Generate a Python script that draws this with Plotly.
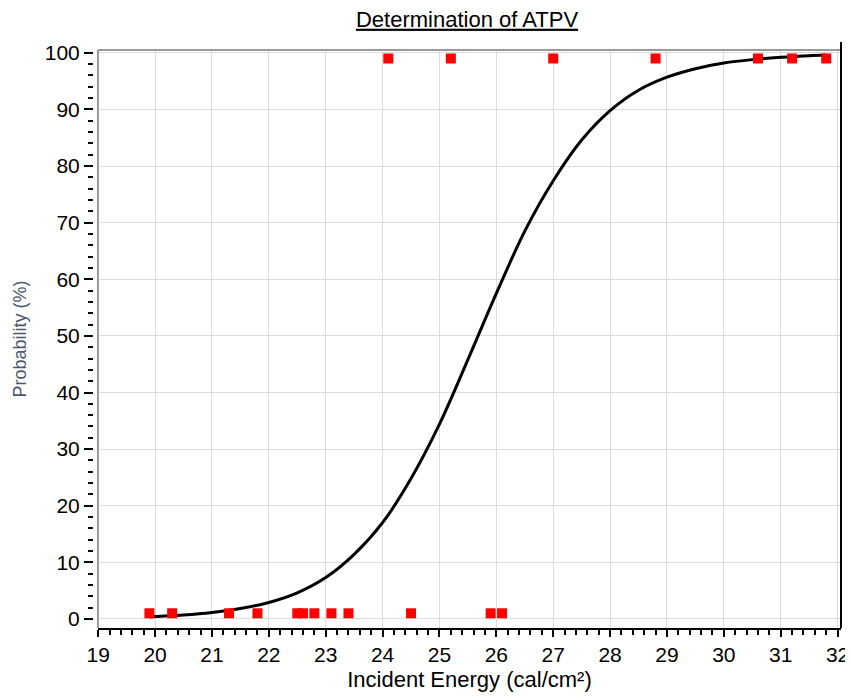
import plotly.graph_objects as go

# Observed test outcomes (plotted at ~1% for no-breakopen, ~99% for breakopen)
energy_low = [19.9, 20.3, 21.3, 21.8, 22.5, 22.6, 22.8, 23.1, 23.4, 24.5, 25.9, 26.1]
prob_low = [1, 1, 1, 1, 1, 1, 1, 1, 1, 1, 1, 1]
energy_high = [24.1, 25.2, 27.0, 28.8, 30.6, 31.2, 31.8]
prob_high = [99, 99, 99, 99, 99, 99, 99]

# Fitted curve
curve_x = [19.9, 20.0, 20.5, 21.0, 21.5, 22.0, 22.5, 23.0, 23.5, 24.0, 24.5, 25.0, 25.5,
           26.0, 26.5, 27.0, 27.5, 28.0, 28.5, 29.0, 29.5, 30.0, 30.5, 31.0, 31.5, 31.8]
curve_y = [0.35, 0.42, 0.7, 1.15, 1.85, 2.9, 4.6, 7.3, 11.4, 17.0, 24.8, 34.4, 45.8,
           57.5, 68.5, 77.4, 84.6, 89.8, 93.4, 95.7, 97.2, 98.2, 98.8, 99.2, 99.5, 99.6]

x_ticks = list(range(19, 33))
y_ticks = list(range(0, 101, 10))

FONT = "Liberation Sans, Arial, sans-serif"

# page is offset by the 8px body margin; margins below account for that
L, R, T, B = 83, 13, 42, 78
W, H = 853, 698
gap = 5 / (W - L - R)

fig = go.Figure()
fig.add_trace(go.Scatter(x=curve_x, y=curve_y, mode="lines",
                         line=dict(color="black", width=3, shape="spline", smoothing=1.0),
                         showlegend=False, hoverinfo="skip"))
fig.add_trace(go.Scatter(x=energy_low + energy_high, y=prob_low + prob_high, mode="markers",
                         marker=dict(symbol="square", size=10, color="#ff0000", line=dict(width=0)),
                         showlegend=False))

fig.update_layout(
    width=W, height=H,
    margin=dict(l=L, r=R, t=T, b=B),
    paper_bgcolor="white", plot_bgcolor="white",
    font=dict(family=FONT, color="black", size=21),
    title=dict(text="<u>Determination of ATPV</u>", x=0.5, xref="paper",
               xanchor="center", yref="container", y=1 - 11 / H, yanchor="middle",
               font=dict(family=FONT, size=22, color="black")),
    xaxis=dict(domain=[gap, 1], range=[18.995, 32.06], tickvals=x_ticks, ticktext=[str(v) for v in x_ticks],
               showgrid=True, gridcolor="#dcdcdc", gridwidth=1, zeroline=False,
               showline=True, linecolor="black", linewidth=2,
               ticks="outside", ticklen=7, tickwidth=2, tickcolor="black",
               minor=dict(dtick=0.2, ticks="outside", ticklen=5, tickwidth=1.5, tickcolor="black", showgrid=False),
               tickfont=dict(size=21),
               title=dict(text="Incident Energy (cal/cm²)", font=dict(size=22), standoff=6)),
    yaxis=dict(anchor="free", position=0, range=[-1.6, 100.5], tickvals=y_ticks,
               ticktext=[str(v) for v in y_ticks],
               showgrid=True, gridcolor="#dcdcdc", gridwidth=1, zeroline=False,
               showline=False,
               ticks="outside", ticklen=9, tickwidth=2, tickcolor="black",
               minor=dict(dtick=2, ticks="outside", ticklen=5, tickwidth=2, tickcolor="black", showgrid=False),
               tickfont=dict(size=21),
               title=dict(text="Probability (%)", font=dict(size=18, color="#4b5670"), standoff=12)),
    shapes=[
        dict(type="line", xref="x domain", yref="paper", x0=0, x1=1, y0=1, y1=1,
             line=dict(color="#999999", width=2)),
        dict(type="line", xref="x domain", yref="paper", x0=0, x1=0, y0=0, y1=1,
             line=dict(color="#999999", width=2)),
        dict(type="line", xref="x domain", yref="paper", x0=1, x1=1, y0=0, y1=1.014,
             line=dict(color="black", width=2)),
    ],
)

fig.write_html("out.html")
